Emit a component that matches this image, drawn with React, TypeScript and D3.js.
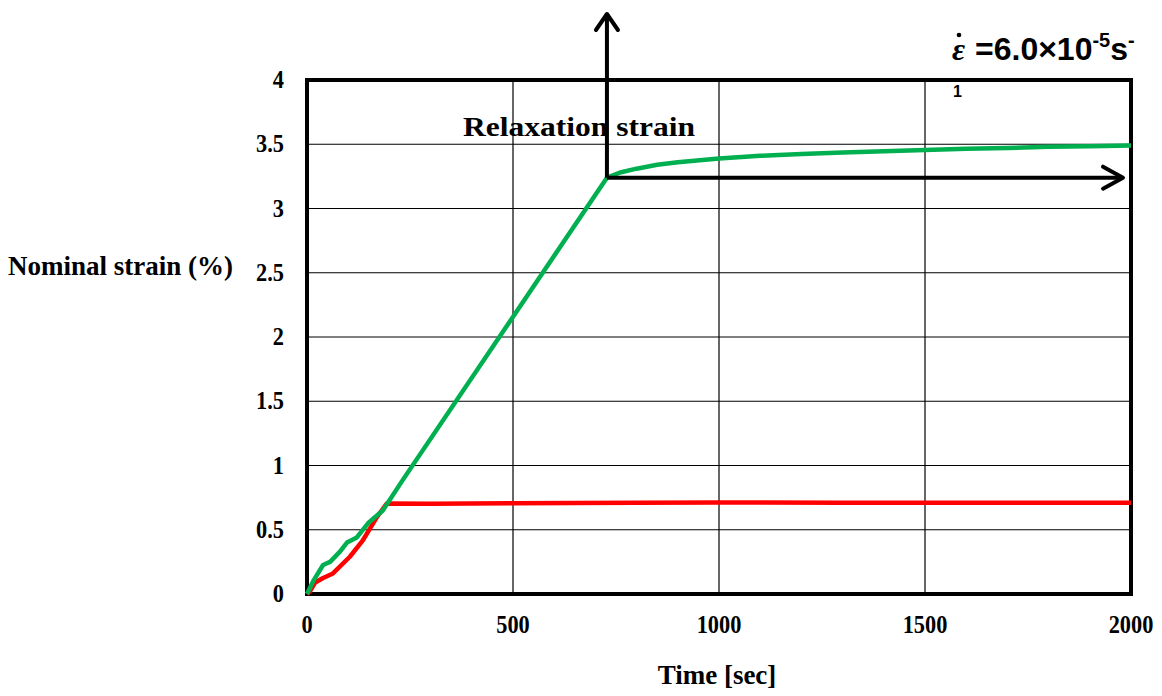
import React from "react";
import * as d3 from "d3";

const xTicks = [0, 500, 1000, 1500, 2000];
const yTicks = [0, 0.5, 1, 1.5, 2, 2.5, 3, 3.5, 4];
const yTickLabels = ["0", "0.5", "1", "1.5", "2", "2.5", "3", "3.5", "4"];

const greenTime = [0, 15, 39, 56, 80, 97, 121, 148, 184, 233, 728, 760, 800, 850, 900, 1000, 1100, 1200, 1300, 1400, 1500, 1600, 1700, 1800, 1900, 2000];
const greenStrain = [0, 0.1, 0.226, 0.25, 0.33, 0.4, 0.44, 0.55, 0.65, 0.89, 3.24, 3.28, 3.31, 3.34, 3.36, 3.39, 3.41, 3.425, 3.435, 3.445, 3.455, 3.465, 3.47, 3.48, 3.485, 3.49];

const redTime = [0, 7, 20, 39, 63, 104, 136, 170, 194, 300, 500, 800, 1000, 1300, 1600, 2000];
const redStrain = [0, 0.02, 0.09, 0.125, 0.16, 0.29, 0.42, 0.6, 0.705, 0.703, 0.706, 0.71, 0.712, 0.71, 0.71, 0.71];

export default function App() {
  const W = 1162, H = 696;
  const x = d3.scaleLinear().domain([0, 2000]).range([307, 1131]);
  const y = d3.scaleLinear().domain([0, 4]).range([594, 80]);
  const line = d3.line<[number, number]>().x((d) => x(d[0])).y((d) => y(d[1]));
  const green = line(greenTime.map((t, i) => [t, greenStrain[i]]));
  const red = line(redTime.map((t, i) => [t, redStrain[i]]));
  const serif = "'Liberation Serif', 'Times New Roman', serif";
  const sans = "'Liberation Sans', Arial, sans-serif";
  const ax = x(728), ay = y(3.24);
  return (
    <svg width={W} height={H} style={{ position: "absolute", left: 0, top: 0 }}>
      <rect width={W} height={H} fill="#fff" />
      {xTicks.slice(1, -1).map((t) => (
        <line key={"gx" + t} x1={x(t)} x2={x(t)} y1={y(4)} y2={y(0)} stroke="#000" strokeWidth={1.2} />
      ))}
      {yTicks.slice(1, -1).map((t) => (
        <line key={"gy" + t} x1={x(0)} x2={x(2000)} y1={y(t)} y2={y(t)} stroke="#000" strokeWidth={1.2} />
      ))}
      <rect x={x(0)} y={y(4)} width={x(2000) - x(0)} height={y(0) - y(4)} fill="none" stroke="#000" strokeWidth={4} />
      {yTicks.map((t, i) => (
        <text key={"ty" + t} transform={`translate(284,${y(t) + 8}) scale(0.86,1)`} textAnchor="end" fontFamily={serif} fontWeight="bold" fontSize={26}>
          {yTickLabels[i]}
        </text>
      ))}
      {xTicks.map((t) => (
        <text key={"tx" + t} transform={`translate(${x(t)},633) scale(0.86,1)`} textAnchor="middle" fontFamily={serif} fontWeight="bold" fontSize={26}>
          {t}
        </text>
      ))}
      <text x={8} y={275} fontFamily={serif} fontWeight="bold" fontSize={27}>Nominal strain (%)</text>
      <text x={717} y={684} textAnchor="middle" fontFamily={serif} fontWeight="bold" fontSize={27}>Time [sec]</text>
      <text x={463} y={136} fontFamily={serif} fontWeight="bold" fontSize={27} textLength={232} lengthAdjust="spacingAndGlyphs">Relaxation strain</text>
      <path d={red ?? ""} fill="none" stroke="#ff0000" strokeWidth={4.5} strokeLinejoin="round" />
      <path d={green ?? ""} fill="none" stroke="#00b050" strokeWidth={4.5} strokeLinejoin="round" />
      {/* arrows */}
      <line x1={ax} y1={ay} x2={ax} y2={14} stroke="#000" strokeWidth={4} />
      <polyline points={`${ax - 11},${30} ${ax},${14} ${ax + 11},${30}`} fill="none" stroke="#000" strokeWidth={4} strokeLinecap="round" strokeLinejoin="round" />
      <line x1={ax} y1={ay} x2={1123} y2={ay} stroke="#000" strokeWidth={4} />
      <polyline points={`${1103},${ay - 11} ${1123},${ay} ${1103},${ay + 11}`} fill="none" stroke="#000" strokeWidth={4} strokeLinecap="round" strokeLinejoin="round" />
      <text x={952} y={60} fontFamily={serif} fontStyle="italic" fontWeight="bold" fontSize={32}>ε</text>
      <circle cx={959} cy={35} r={2.3} fill="#000" />
      <text x={975} y={60} fontFamily={sans} fontWeight="bold" fontSize={32}>
        <tspan>=6.0×10</tspan>
        <tspan fontSize={20} dy={-13}>-5</tspan>
        <tspan dy={13}>s</tspan>
        <tspan fontSize={20} dy={-13}>-</tspan>
      </text>
      <text x={953} y={97} fontFamily={sans} fontWeight="bold" fontSize={16}>1</text>
    </svg>
  );
}
